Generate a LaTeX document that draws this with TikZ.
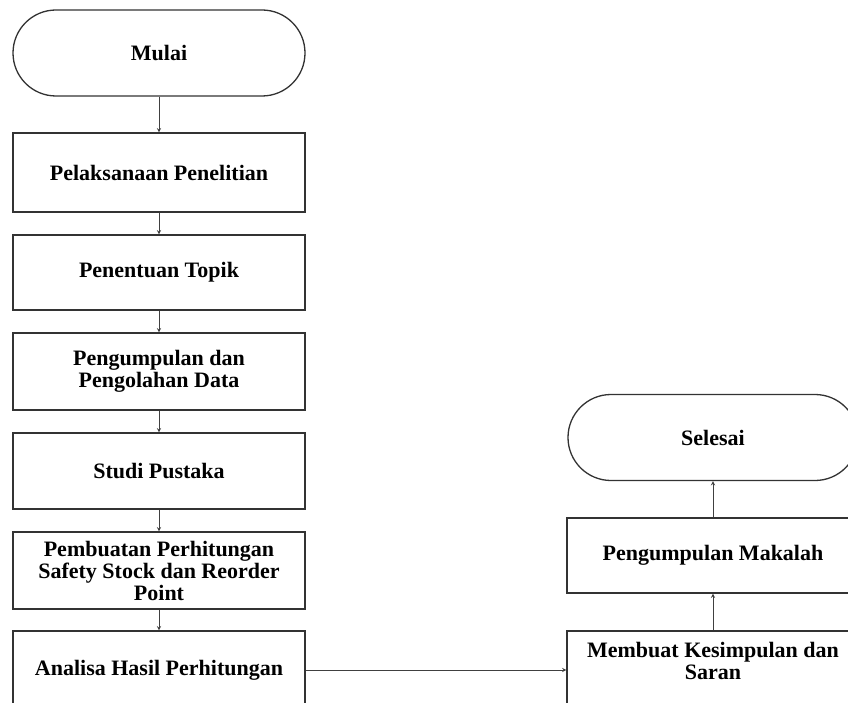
\documentclass[tikz,border=0pt]{standalone}
\usepackage{fontspec}
\setmainfont{Liberation Serif}
\usepackage{tikz}
\usetikzlibrary{arrows}

\begin{document}
\begin{tikzpicture}[x=1pt,y=-1pt,
    box/.style={draw=black!80, line width=1.3pt, minimum width=292pt, inner sep=2pt,
                align=center, font=\bfseries\fontsize{22}{22}\selectfont},
    terminal/.style={box, rounded corners=43pt, minimum height=86pt},
    link/.style={->, >=stealth, draw=black!75, line width=0.9pt}]
                \useasboundingbox (0,0) rectangle (848,703);
                \clip (0,0) rectangle (848,703);

                \node[terminal] (mulai) at (159,53) {Mulai};
                \node[box, minimum height=79pt] (laksana) at (159,172.5) {Pelaksanaan Penelitian};
                \node[box, minimum height=75pt] (topik) at (159,272.5) {Penentuan Topik};
                \node[box, minimum height=77pt] (olahdata) at (159,371.5) {Pengumpulan dan\\Pengolahan Data};
                \node[box, minimum height=76pt] (pustaka) at (159,471) {Studi Pustaka};
                \node[box, minimum height=77pt] (hitung) at (159,570.5) {Pembuatan Perhitungan\\Safety Stock dan Reorder\\Point};
                \node[box, minimum height=78pt] (analisa) at (159,670) {Analisa Hasil Perhitungan};

                \node[box, minimum height=78pt] (simpulan) at (713,670) {Membuat Kesimpulan dan\\Saran\\[-4pt]};
                \node[box, minimum height=75pt] (makalah) at (713,555.5) {Pengumpulan Makalah};
                \node[terminal, minimum width=290pt] (selesai) at (713,437.5) {Selesai};

                \draw[link] (mulai) -- (laksana);
                \draw[link] (laksana) -- (topik);
                \draw[link] (topik) -- (olahdata);
                \draw[link] (olahdata) -- (pustaka);
                \draw[link] (pustaka) -- (hitung);
                \draw[link] (hitung) -- (analisa);
                \draw[link] (analisa) -- (simpulan);
                \draw[link] (simpulan) -- (makalah);
                \draw[link] (makalah) -- (selesai);
            \end{tikzpicture}
\end{document}
